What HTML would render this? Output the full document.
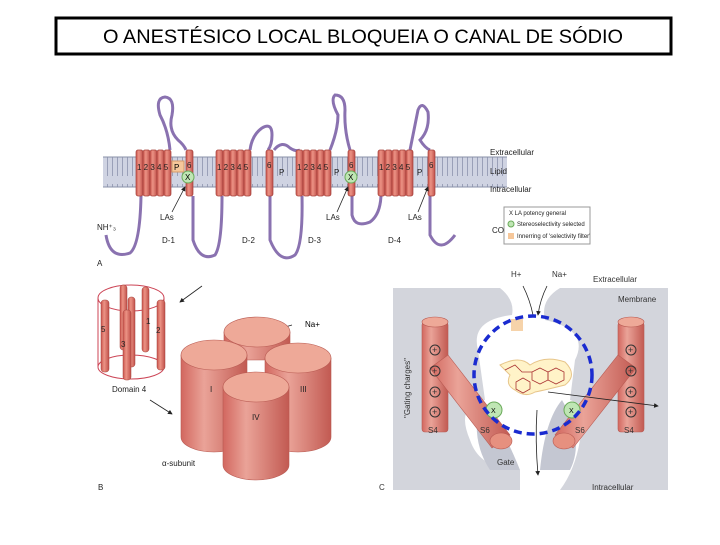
<!DOCTYPE html>
<html><head><meta charset="utf-8"><style>
body{margin:0;background:#fff;width:720px;height:540px;overflow:hidden;font-family:"Liberation Sans",sans-serif}
</style></head><body>
<svg width="720" height="540" viewBox="0 0 720 540" xmlns="http://www.w3.org/2000/svg" font-family="Liberation Sans, sans-serif">
<defs>
<linearGradient id="cyl" x1="0" x2="1" y1="0" y2="0">
<stop offset="0" stop-color="#d2675f"/><stop offset="0.35" stop-color="#eaa398"/><stop offset="1" stop-color="#c25a52"/></linearGradient>
<linearGradient id="hel" x1="0" x2="1"><stop offset="0" stop-color="#c9554d"/><stop offset="0.4" stop-color="#ec9385"/><stop offset="1" stop-color="#c0504a"/></linearGradient>
<pattern id="lip" width="5" height="30" patternUnits="userSpaceOnUse"><rect width="5" height="30" fill="#cfd3e2"/><line x1="2.5" y1="4" x2="2.5" y2="26" stroke="#9aa0b8" stroke-width="1"/></pattern>
<marker id="ar" markerWidth="6" markerHeight="6" refX="5" refY="3" orient="auto"><path d="M0,0L6,3L0,6z" fill="#222"/></marker>
</defs>
<rect x="56" y="18" width="615" height="36" fill="#fff" stroke="#000" stroke-width="3"/>
<text x="363" y="43" font-size="19.5" text-anchor="middle" textLength="520" lengthAdjust="spacingAndGlyphs">O ANESTÉSICO LOCAL BLOQUEIA O CANAL DE SÓDIO</text>

<rect x="103" y="157" width="404" height="30" fill="url(#lip)"/>
<line x1="103" y1="157" x2="507" y2="157" stroke="#8a90a8"/><line x1="103" y1="187" x2="507" y2="187" stroke="#8a90a8"/>
<g fill="none" stroke="#8a72b0" stroke-width="3">
<path d="M106,235 Q110,260 130,253 Q140,245 141,196"/>
<path d="M170,150 Q168,130 160,115 Q155,98 165,97 Q175,98 172,115 Q168,130 178,140 Q184,145 186,150"/>
<path d="M193,196 L193,240 Q200,262 215,255 Q222,245 222,196"/>
<path d="M250,150 Q252,135 262,128 Q272,122 272,135 Q272,145 268,150"/>
<path d="M274,150 Q282,140 290,148 Q296,152 300,150"/>
<path d="M270,196 L270,240 Q280,265 295,255 Q303,245 302,196"/>
<path d="M330,150 Q338,130 338,115 Q330,100 335,95 Q345,95 345,110 Q344,130 350,150"/>
<path d="M352,196 L352,215 Q355,228 370,222 Q380,215 381,196"/>
<path d="M410,150 Q415,125 418,110 Q422,100 428,112 Q430,130 420,140 Q425,148 430,150"/>
<path d="M430,196 L430,235 Q440,255 455,235"/>
</g>
<g fill="url(#hel)" stroke="#a5413b" stroke-width="0.7">
<rect x="136" y="150" width="7" height="46" rx="2"/><rect x="143" y="150" width="7" height="46" rx="2"/><rect x="150" y="150" width="7" height="46" rx="2"/><rect x="157" y="150" width="7" height="46" rx="2"/><rect x="164" y="150" width="7" height="46" rx="2"/>
<rect x="186" y="150" width="7" height="46" rx="2"/>
<rect x="216" y="150" width="7" height="46" rx="2"/><rect x="223" y="150" width="7" height="46" rx="2"/><rect x="230" y="150" width="7" height="46" rx="2"/><rect x="237" y="150" width="7" height="46" rx="2"/><rect x="244" y="150" width="7" height="46" rx="2"/>
<rect x="266" y="150" width="7" height="46" rx="2"/>
<rect x="296" y="150" width="7" height="46" rx="2"/><rect x="303" y="150" width="7" height="46" rx="2"/><rect x="310" y="150" width="7" height="46" rx="2"/><rect x="317" y="150" width="7" height="46" rx="2"/><rect x="324" y="150" width="7" height="46" rx="2"/>
<rect x="348" y="150" width="7" height="46" rx="2"/>
<rect x="378" y="150" width="7" height="46" rx="2"/><rect x="385" y="150" width="7" height="46" rx="2"/><rect x="392" y="150" width="7" height="46" rx="2"/><rect x="399" y="150" width="7" height="46" rx="2"/><rect x="406" y="150" width="7" height="46" rx="2"/>
<rect x="428" y="150" width="7" height="46" rx="2"/>
</g>
<g font-size="8" fill="#222">
<text x="137" y="170">1 2 3 4 5</text><text x="217" y="170">1 2 3 4 5</text><text x="297" y="170">1 2 3 4 5</text><text x="379" y="170">1 2 3 4 5</text>
<text x="187" y="168">6</text><text x="267" y="168">6</text><text x="349" y="168">6</text><text x="429" y="168">6</text>
<text x="279" y="175">P</text><text x="334" y="175">P</text><text x="417" y="175">P</text>
<text x="490" y="155">Extracellular</text><text x="490" y="174">Lipid</text><text x="490" y="192">Intracellular</text>
<text x="97" y="230">NH⁺₃</text><text x="162" y="243">D-1</text><text x="242" y="243">D-2</text><text x="308" y="243">D-3</text><text x="388" y="243">D-4</text>
<text x="492" y="233">CO⁻₂</text><text x="97" y="266">A</text>
<text x="160" y="220">LAs</text><text x="326" y="220">LAs</text><text x="408" y="220">LAs</text>
</g>
<rect x="172" y="161" width="12" height="11" fill="#f6c79a" stroke="#d49a6a"/><text x="174" y="170" font-size="8">P</text>
<circle cx="188" cy="177" r="6" fill="#bfe6b4" stroke="#6aaa5a"/><text x="185" y="180" font-size="8">X</text>
<circle cx="351" cy="177" r="6" fill="#bfe6b4" stroke="#6aaa5a"/><text x="348" y="180" font-size="8">X</text>
<g stroke="#222" stroke-width="0.8" marker-end="url(#ar)"><line x1="172" y1="212" x2="185" y2="187"/><line x1="337" y1="212" x2="348" y2="187"/><line x1="418" y1="212" x2="428" y2="187"/></g>
<rect x="504" y="207" width="86" height="37" fill="#fff" stroke="#999"/>
<g font-size="6" fill="#222"><text x="509" y="215">X LA potency general</text><text x="517" y="226">Stereoselectivity selected</text><text x="517" y="238">Innerring of 'selectivity filter'</text></g>
<circle cx="511" cy="224" r="3" fill="#bfe6b4" stroke="#6aaa5a"/><rect x="508" y="233" width="6" height="6" fill="#f6c79a"/>

<ellipse cx="131" cy="298" rx="33" ry="13" fill="none" stroke="#c45"/>
<line x1="98" y1="298" x2="98" y2="367" stroke="#c45"/><line x1="164" y1="298" x2="164" y2="367" stroke="#c45"/>
<ellipse cx="131" cy="367" rx="33" ry="12" fill="none" stroke="#c45"/>
<g fill="url(#hel)" stroke="#a5413b" stroke-width="0.5">
<rect x="120" y="285" width="7" height="65" rx="3"/><rect x="142" y="287" width="7" height="65" rx="3"/><rect x="128" y="297" width="7" height="70" rx="3"/>
<rect x="101" y="300" width="8" height="72" rx="3"/><rect x="157" y="300" width="8" height="70" rx="3"/><rect x="123" y="310" width="8" height="70" rx="3"/>
</g>
<g font-size="8" fill="#222"><text x="101" y="332">5</text><text x="146" y="324">1</text><text x="156" y="333">2</text><text x="121" y="347">3</text><text x="112" y="392">Domain 4</text><text x="162" y="466">α-subunit</text><text x="98" y="490">B</text></g>
<g stroke="#222" stroke-width="0.8" marker-end="url(#ar)"><line x1="202" y1="286" x2="180" y2="302"/><line x1="150" y1="400" x2="172" y2="414"/><path d="M292,325 Q270,330 257,355" fill="none"/></g>
<text x="305" y="327" font-size="8">Na+</text>
<g stroke="#b85a52" stroke-width="0.6">
<path d="M224,332 v28 h66 v-28z" fill="url(#cyl)"/><ellipse cx="257" cy="332" rx="33" ry="15" fill="#eea998"/>
<path d="M181,355 v82 a33,15 0 0 0 66,0 v-82z" fill="url(#cyl)"/><ellipse cx="214" cy="355" rx="33" ry="15" fill="#eea998"/>
<path d="M265,358 v79 a33,15 0 0 0 66,0 v-79z" fill="url(#cyl)"/><ellipse cx="298" cy="358" rx="33" ry="15" fill="#eea998"/>
<path d="M223,387 v78 a33,15 0 0 0 66,0 v-78z" fill="url(#cyl)"/><ellipse cx="256" cy="387" rx="33" ry="15" fill="#eea998"/>
</g>
<g font-size="8" fill="#222"><text x="210" y="392">I</text><text x="300" y="392">III</text><text x="252" y="420">IV</text></g>

<path d="M393,288 H500 Q515,300 512,315 Q470,320 478,350 L485,400 Q455,405 470,440 Q480,470 520,470 L520,490 H393z" fill="#d3d5dc"/>
<path d="M668,288 H560 Q540,300 545,320 Q590,330 575,360 L570,400 Q600,410 580,440 Q575,470 560,490 H668z" fill="#d3d5dc"/>
<path d="M480,400 Q500,420 520,470 L490,470 Q470,440 480,400z" fill="#c4c7d2"/>
<path d="M562,400 Q545,420 540,470 L570,470 Q585,440 562,400z" fill="#c4c7d2"/>
<g fill="url(#cyl)" stroke="#b85a52" stroke-width="0.6">
<rect x="422" y="322" width="26" height="110" rx="3"/><ellipse cx="435" cy="322" rx="13" ry="5" fill="#eea998"/>
<rect x="618" y="322" width="26" height="110" rx="3"/><ellipse cx="631" cy="322" rx="13" ry="5" fill="#eea998"/>
<path d="M430,368 L448,355 L510,435 L492,448z"/><ellipse cx="501" cy="441" rx="11" ry="8" fill="#e6907f"/>
<path d="M636,368 L618,355 L555,435 L573,448z"/><ellipse cx="564" cy="441" rx="11" ry="8" fill="#e6907f"/>
</g>
<g fill="none" stroke="#333">
<circle cx="435" cy="350" r="5"/><circle cx="435" cy="371" r="5"/><circle cx="435" cy="392" r="5"/><circle cx="435" cy="412" r="5"/>
<circle cx="631" cy="350" r="5"/><circle cx="631" cy="371" r="5"/><circle cx="631" cy="392" r="5"/><circle cx="631" cy="412" r="5"/>
</g>
<g font-size="8" fill="#333">
<text x="432" y="353" font-size="9">+</text><text x="432" y="374" font-size="9">+</text><text x="432" y="395" font-size="9">+</text><text x="432" y="415" font-size="9">+</text>
<text x="628" y="353" font-size="9">+</text><text x="628" y="374" font-size="9">+</text><text x="628" y="395" font-size="9">+</text><text x="628" y="415" font-size="9">+</text>
<text x="428" y="433">S4</text><text x="624" y="433">S4</text><text x="480" y="433">S6</text><text x="575" y="433">S6</text>
<text x="497" y="465">Gate</text><text x="511" y="277">H+</text><text x="552" y="277">Na+</text>
<text x="593" y="282">Extracellular</text><text x="618" y="302">Membrane</text><text x="592" y="490">Intracellular</text><text x="379" y="490">C</text>
<text transform="translate(410,418) rotate(-90)">"Gating charges"</text>
</g>
<circle cx="494" cy="410" r="8" fill="#bfe6b4" stroke="#6aaa5a"/><text x="491" y="413" font-size="7">X</text>
<circle cx="572" cy="410" r="8" fill="#bfe6b4" stroke="#6aaa5a"/><text x="569" y="413" font-size="7">X</text>
<rect x="511" y="319" width="12" height="12" fill="#f6d3aa"/>
<path d="M500,365 Q520,355 530,365 Q545,355 565,362 Q578,375 565,385 Q545,390 535,392 Q525,398 515,390 Q505,385 510,375z" fill="#fff3c8" stroke="#e7c58a"/>
<g fill="none" stroke="#a33" stroke-width="0.8"><polygon points="540,368 548,372 548,380 540,384 532,380 532,372"/><polygon points="556,368 564,372 564,380 556,384 548,380 548,372"/><polygon points="523,378 530,382 530,389 523,393 516,389 516,382"/><path d="M505,370 L515,365 L522,372 L532,372"/></g>
<g stroke="#222" stroke-width="0.8" fill="none"><path d="M523,286 Q530,300 533,315"/><path d="M547,286 Q540,300 538,315" marker-end="url(#ar)"/>
<path d="M548,392 L658,406" marker-end="url(#ar)"/><path d="M537,410 Q535,440 538,475" marker-end="url(#ar)"/></g>
<circle cx="533" cy="375" r="59" fill="none" stroke="#1a2bd0" stroke-width="3.5" stroke-dasharray="8,5"/>
</svg>
</body></html>
